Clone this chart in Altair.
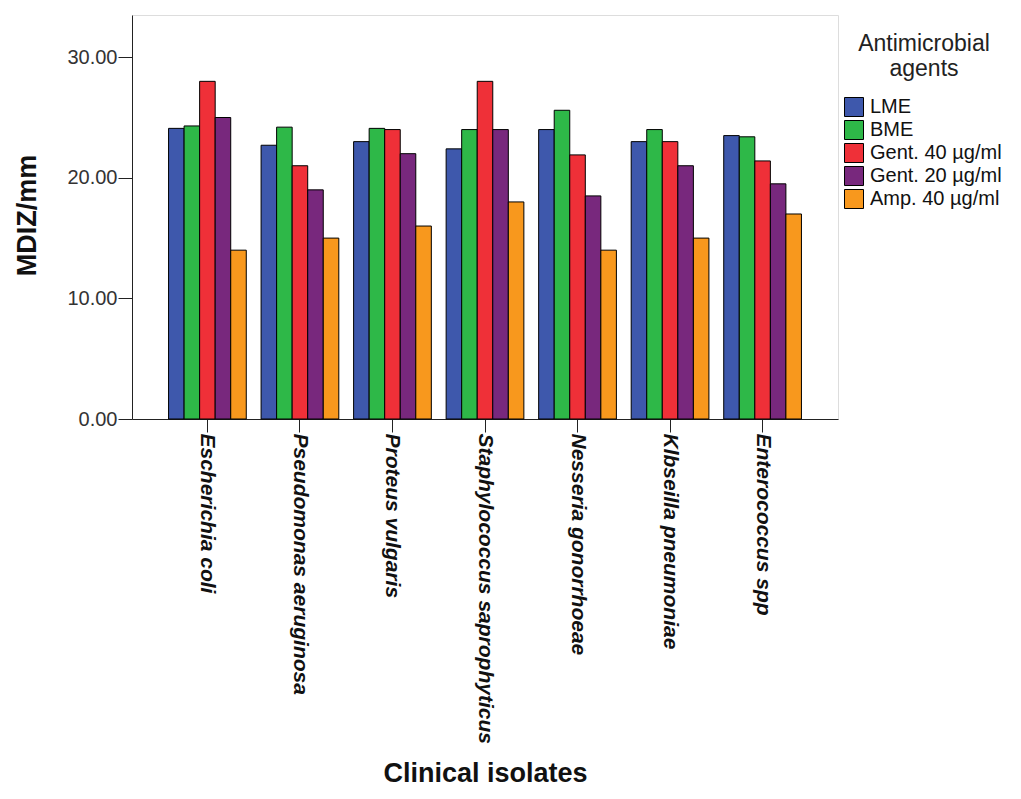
import altair as alt
import pandas as pd

isolates = ["Escherichia coli", "Pseudomonas aeruginosa", "Proteus vulgaris",
            "Staphylococcus saprophyticus", "Nesseria gonorrhoeae",
            "Klbseilla pneumoniae", "Enterococcus spp"]
agents = ["LME", "BME", "Gent. 40 µg/ml", "Gent. 20 µg/ml", "Amp. 40  µg/ml"]
lme = [24.1, 22.7, 23.0, 22.4, 24.0, 23.0, 23.5]
bme = [24.3, 24.2, 24.1, 24.0, 25.6, 24.0, 23.4]
gent40 = [28.0, 21.0, 24.0, 28.0, 21.9, 23.0, 21.4]
gent20 = [25.0, 19.0, 22.0, 24.0, 18.5, 21.0, 19.5]
amp40 = [14.0, 15.0, 16.0, 18.0, 14.0, 15.0, 17.0]
colors = ["#3E58AC", "#2EB848", "#EF3038", "#78287D", "#F8981D"]

series = [lme, bme, gent40, gent20, amp40]
rows = []
for agent, vals in zip(agents, series):
    for iso, v in zip(isolates, vals):
        rows.append({"isolate": iso, "agent": agent, "value": v})
df = pd.DataFrame(rows)

FONT = "Liberation Sans"

chart = alt.Chart(df).mark_bar(stroke="black", strokeWidth=1).encode(
    x=alt.X("isolate:N", sort=isolates,
            scale=alt.Scale(paddingInner=0.16, paddingOuter=0.395),
            axis=alt.Axis(title="Clinical isolates", labelAngle=90, labelAlign="left",
                          labelBaseline="middle", labelFont=FONT, labelFontSize=21,
                          labelFontWeight="bold", labelFontStyle="italic",
                          labelColor="#111", labelPadding=1, tickSize=13,
                          tickColor="#222", domainColor="#222", labelLimit=0,
                          titleFont=FONT, titleFontSize=27, titleFontWeight="bold",
                          titleColor="#111", titleY=362, titleBaseline="alphabetic")),
    xOffset=alt.XOffset("agent:N", sort=agents),
    y=alt.Y("value:Q", scale=alt.Scale(domain=[0, 33.5], nice=False),
            axis=alt.Axis(title="MDIZ/mm", values=[0, 10, 20, 30], format=".2f",
                          grid=False, tickSize=14, tickColor="#222", domainColor="#222",
                          labelFont=FONT, labelFontSize=20, labelColor="#333",
                          labelPadding=1, titleFont=FONT, titleFontSize=27,
                          titleFontWeight="bold", titleColor="#111",
                          titleX=-97, titleY=200, titleBaseline="alphabetic")),
    color=alt.Color("agent:N", sort=agents,
                    scale=alt.Scale(domain=agents, range=colors),
                    legend=alt.Legend(title=["Antimicrobial", "agents"], orient="none",
                                      legendX=712, legendY=18, titleFont=FONT,
                                      titleFontSize=23, titleFontWeight="normal",
                                      titleColor="#222", titleAnchor="middle",
                                      titleAlign="center", titlePadding=16,
                                      titleLimit=0, labelLimit=0,
                                      labelFont=FONT, labelFontSize=20, labelColor="#111",
                                      symbolType="square", symbolSize=361,
                                      symbolStrokeColor="black", symbolStrokeWidth=1,
                                      symbolOpacity=1, rowPadding=-1, labelOffset=6)),
).properties(
    width=706, height=404,
    autosize=alt.AutoSizeParams(type="none"),
    padding={"left": 124, "top": 7, "right": 175, "bottom": 370},
).configure_view(
    fill="#F0F0F0", stroke="#333", strokeWidth=1.2
).configure(background="white")

chart.save("out.html", embed_options={"renderer": "svg", "actions": False})
